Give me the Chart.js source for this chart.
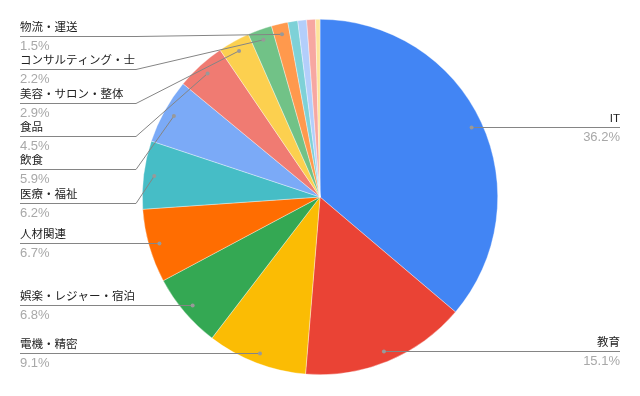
<!DOCTYPE html>
<html><head><meta charset="utf-8">
<script src="https://cdn.jsdelivr.net/npm/chart.js@4/dist/chart.umd.min.js"></script>
<style>html,body{margin:0;padding:0;background:#fff}#wrap{width:640px;height:396px}</style>
</head><body><div id="wrap"><canvas id="c" width="640" height="396"></canvas></div>
<script>
const categories = ['IT','教育','電機・精密','娯楽・レジャー・宿泊','人材関連','医療・福祉','飲食','食品','美容・サロン・整体','コンサルティング・士','物流・運送','その他1','その他2','その他3','その他4'];
const shares = [36.2,15.1,9.1,6.8,6.7,6.2,5.9,4.5,2.9,2.2,1.5,0.9,0.8,0.8,0.4];
const sliceColors = ['#4285F4','#EA4335','#FBBC04','#34A853','#FF6D01','#46BDC6','#7BAAF7','#F07B72','#FCD04F','#71C287','#FF994D','#7ED1D7','#B3CEFB','#F7A7A1','#FDE49B'];
const labelThreshold = 1.0;

const LABEL_FONT = '11.5px Arial, "Liberation Sans", "Noto Sans CJK JP", sans-serif';
const PCT_FONT = '13px Arial, "Liberation Sans", "Noto Sans CJK JP", sans-serif';

const leaderLabels = {
  id: 'leaderLabels',
  afterDraw(chart) {
    const ctx = chart.ctx;
    const meta = chart.getDatasetMeta(0);
    const total = shares.reduce((a, b) => a + b, 0);
    const left = [], right = [];
    meta.data.forEach((arc, i) => {
      if (shares[i] < labelThreshold) return;
      const p = arc.getProps(['x', 'y', 'startAngle', 'endAngle', 'outerRadius'], true);
      const mid = (p.startAngle + p.endAngle) / 2;
      const r = p.outerRadius * 0.94;
      const dx = p.x + Math.cos(mid) * r, dy = p.y + Math.sin(mid) * r;
      const item = { i, dx, dy, pct: (shares[i] / total * 100).toFixed(1) + '%' };
      (dx >= p.x ? right : left).push(item);
    });
    const gap = 33.3, minY = 36;
    function layout(arr) {
      arr.sort((a, b) => a.dy - b.dy);
      let prev = -Infinity;
      arr.forEach(it => {
        it.ly = Math.max(it.dy, prev + gap, minY);
        prev = it.ly;
      });
    }
    layout(left); layout(right);
    const W = chart.width;
    const xL = 20, xR = W - 20, elbowL = 136, elbowR = W - 136;
    ctx.save();
    ctx.strokeStyle = '#858585';
    ctx.lineWidth = 1;
    function drawItem(it, side) {
      ctx.beginPath();
      const y = Math.round(it.ly) + 0.5;
      const bent = Math.abs(it.ly - it.dy) > 1;
      if (side === 'L') {
        ctx.moveTo(xL, y);
        if (bent) { ctx.lineTo(elbowL, y); ctx.lineTo(it.dx, it.dy); }
        else ctx.lineTo(it.dx, y);
      } else {
        ctx.moveTo(xR, y);
        if (bent) { ctx.lineTo(elbowR, y); ctx.lineTo(it.dx, it.dy); }
        else ctx.lineTo(it.dx, y);
      }
      ctx.stroke();
      ctx.fillStyle = '#999';
      ctx.beginPath();
      ctx.arc(it.dx, bent ? it.dy : y, 2, 0, Math.PI * 2);
      ctx.fill();
      ctx.textAlign = side === 'L' ? 'left' : 'right';
      ctx.textBaseline = 'middle';
      const tx = side === 'L' ? xL : xR;
      ctx.font = LABEL_FONT;
      ctx.fillStyle = '#222';
      ctx.fillText(categories[it.i], tx, y - 9);
      ctx.font = PCT_FONT;
      ctx.fillStyle = '#a8a8a8';
      ctx.fillText(it.pct, tx, y + 9.5);
    }
    left.forEach(it => drawItem(it, 'L'));
    right.forEach(it => drawItem(it, 'R'));
    ctx.restore();
  }
};

new Chart(document.getElementById('c'), {
  type: 'pie',
  data: {
    labels: categories,
    datasets: [{
      data: shares,
      backgroundColor: sliceColors,
      borderColor: 'rgba(255,255,255,0.6)',
      borderWidth: 0.6
    }]
  },
  options: {
    responsive: false,
    animation: false,
    devicePixelRatio: 1,
    layout: { padding: { top: 19, bottom: 21, left: 0, right: 0 } },
    plugins: { legend: { display: false }, tooltip: { enabled: false } }
  },
  plugins: [leaderLabels]
});
</script>
</body></html>
